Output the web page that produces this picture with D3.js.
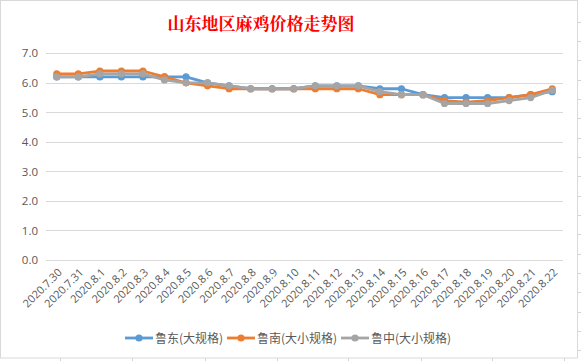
<!DOCTYPE html>
<html>
<head>
<meta charset="utf-8">
<script src="https://cdn.jsdelivr.net/npm/d3@7"></script>
<style>
  body { margin: 0; background: #ffffff; }
  svg { display: block; }
</style>
</head>
<body>
<svg id="chart" width="581" height="361"></svg>
<script>
// dates on the x axis
var dates = ['2020.7.30', '2020.7.31', '2020.8.1', '2020.8.2', '2020.8.3', '2020.8.4',
    '2020.8.5', '2020.8.6', '2020.8.7', '2020.8.8', '2020.8.9', '2020.8.10',
    '2020.8.11', '2020.8.12', '2020.8.13', '2020.8.14', '2020.8.15', '2020.8.16',
    '2020.8.17', '2020.8.18', '2020.8.19', '2020.8.20', '2020.8.21', '2020.8.22'];

var seriesNames = ['鲁东(大规格)', '鲁南(大小规格)', '鲁中(大小规格)'];

var ludong = [6.2, 6.2, 6.2, 6.2, 6.2, 6.2, 6.2, 6.0, 5.9, 5.8, 5.8, 5.8,
    5.9, 5.9, 5.9, 5.8, 5.8, 5.6, 5.5, 5.5, 5.5, 5.5, 5.6, 5.7];
var lunan = [6.3, 6.3, 6.4, 6.4, 6.4, 6.2, 6.0, 5.9, 5.8, 5.8, 5.8, 5.8,
    5.8, 5.8, 5.8, 5.6, 5.6, 5.6, 5.4, 5.35, 5.4, 5.5, 5.6, 5.8];
var luzhong = [6.2, 6.2, 6.3, 6.3, 6.3, 6.1, 6.0, 6.0, 5.9, 5.8, 5.8, 5.8,
    5.9, 5.9, 5.9, 5.7, 5.6, 5.6, 5.3, 5.3, 5.3, 5.4, 5.5, 5.75];

var yTicks = [0, 1, 2, 3, 4, 5, 6, 7];

var colors = ['#5b9bd5', '#ed7d31', '#a5a5a5'];
var allSeries = [ludong, lunan, luzhong];

let svg = d3.select('#chart');
let W = 581, H = 361;

// spreadsheet cell lines peeking out around the chart object
let sheet = svg.append('g').attr('stroke', '#d4d4d4').attr('stroke-width', 1);
[60, 132, 205, 277, 348, 421, 492, 564].forEach(function (x) {
    sheet.append('line').attr('x1', x + 0.5).attr('x2', x + 0.5).attr('y1', 358).attr('y2', H);
});
sheet.append('line').attr('x1', 564.5).attr('x2', 564.5).attr('y1', 0).attr('y2', 2);
[22, 41, 60, 80, 99, 118, 138, 157, 176, 196, 215, 234, 254, 273, 292, 312, 331, 350].forEach(function (y) {
    sheet.append('line').attr('x1', 577).attr('x2', W).attr('y1', y + 0.5).attr('y2', y + 0.5);
});

// chart frame
svg.append('rect')
    .attr('x', 0.5).attr('y', 0.5)
    .attr('width', 577).attr('height', 357.5)
    .attr('fill', '#ffffff')
    .attr('stroke', '#d9d9d9');

// scales
let xScale = d3.scaleBand()
    .domain(dates)
    .range([46, 563]);

let yScale = d3.scaleLinear()
    .domain([0, 7])
    .range([260, 53.3]);

let cx = (d) => xScale(d) + xScale.bandwidth() / 2;

// gridlines
svg.append('g')
    .selectAll('line')
    .data(yTicks)
    .enter().append('line')
    .attr('x1', 46).attr('x2', 563)
    .attr('y1', (d) => Math.round(yScale(d)) + 0.5)
    .attr('y2', (d) => Math.round(yScale(d)) + 0.5)
    .attr('stroke', '#d9d9d9')
    .attr('stroke-width', 1);

// y axis labels
let yAxis = d3.axisLeft(yScale)
    .tickValues(yTicks)
    .tickFormat(d3.format('.1f'))
    .tickSize(0)
    .tickPadding(8);
let yGroup = svg.append('g').attr('transform', 'translate(46,0)').call(yAxis);
yGroup.select('.domain').remove();
yGroup.selectAll('text')
    .style('font-family', '"Open Sans", "Noto Sans", sans-serif')
    .style('font-size', '11.5px')
    .attr('fill', '#595959');

// x axis labels, rotated
let xAxis = d3.axisBottom(xScale).tickSize(0).tickPadding(0);
let xGroup = svg.append('g').attr('transform', 'translate(0,260)').call(xAxis);
xGroup.select('.domain').remove();
xGroup.selectAll('text')
    .attr('y', 0)
    .attr('dy', 0)
    .attr('text-anchor', 'end')
    .attr('transform', 'translate(6,13) rotate(-45)')
    .style('font-family', '"Open Sans", "Noto Sans", sans-serif')
    .style('font-size', '11px')
    .attr('fill', '#595959');

// lines + markers
let line = d3.line()
    .x((d, i) => cx(dates[i]))
    .y((d) => yScale(d));

allSeries.forEach(function (vals, k) {
    let g = svg.append('g');
    g.append('path')
        .datum(vals)
        .attr('d', line)
        .attr('fill', 'none')
        .attr('stroke', colors[k])
        .attr('stroke-width', 2.8)
        .attr('stroke-linejoin', 'round')
        .attr('stroke-linecap', 'round');
    g.selectAll('circle')
        .data(vals)
        .enter().append('circle')
        .attr('cx', (d, i) => cx(dates[i]))
        .attr('cy', (d) => yScale(d))
        .attr('r', 3.6)
        .attr('fill', colors[k]);
});

// title
svg.append('text')
    .text('山东地区麻鸡价格走势图')
    .attr('x', 261)
    .attr('y', 30)
    .attr('text-anchor', 'middle')
    .style('fill', '#ff0000')
    .style('font-size', '17px')
    .style('font-weight', 'bold')
    .style('font-family', '"Noto Serif CJK SC", "Noto Sans CJK SC", serif');

// legend
let legendX = [125, 227, 341];
let legend = svg.append('g');
seriesNames.forEach(function (name, k) {
    let lx = legendX[k];
    legend.append('line')
        .attr('x1', lx).attr('x2', lx + 28)
        .attr('y1', 338).attr('y2', 338)
        .attr('stroke', colors[k])
        .attr('stroke-width', 2.8);
    legend.append('circle')
        .attr('cx', lx + 14).attr('cy', 338).attr('r', 3.6)
        .attr('fill', colors[k]);
    legend.append('text')
        .text(name)
        .attr('x', lx + 30)
        .attr('y', 342.5)
        .style('fill', '#595959')
        .style('font-size', '12px')
        .style('font-family', '"Noto Sans CJK SC", sans-serif');
});
</script>
</body>
</html>
